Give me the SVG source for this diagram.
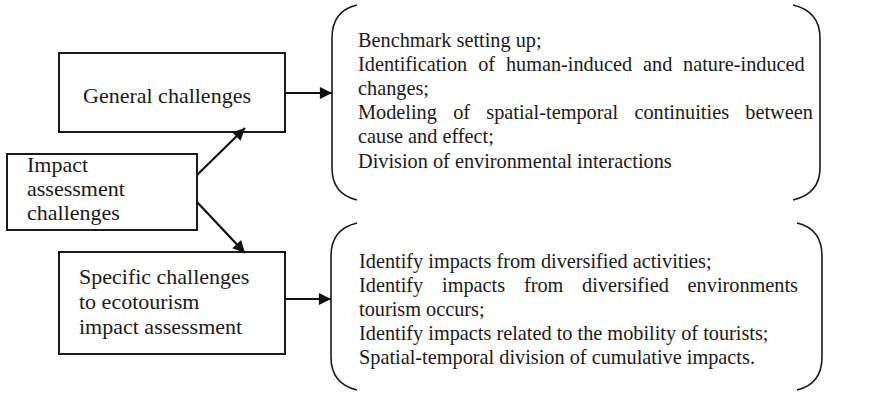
<svg xmlns="http://www.w3.org/2000/svg" width="876" height="394" viewBox="0 0 876 394">
<defs>
<style>
.box{fill:#fff;stroke:#1a1a1a;stroke-width:2}
.br{fill:none;stroke:#1a1a1a;stroke-width:1.6}
.lt{font-family:'Liberation Serif','Times New Roman',Times,serif;font-size:22px;fill:#1a1a1a}
.rt{font-family:'Liberation Serif','Times New Roman',Times,serif;font-size:20.3px;fill:#1a1a1a}
.con{fill:none;stroke:#111;stroke-width:2.2}
</style>
<marker id="ah" viewBox="0 0 10 10" refX="10" refY="5" markerWidth="6" markerHeight="5.5" markerUnits="strokeWidth" orient="auto">
<path d="M0,0 L10,5 L0,10 Z" fill="#111"/>
</marker>
</defs>
<rect width="876" height="394" fill="#fff"/>

<g id="impact">
<rect class="box" x="7" y="154" width="190" height="76"/>
<text class="lt" font-family="Liberation Serif, serif"><tspan x="27" y="172">Impact</tspan><tspan x="27" y="196">assessment</tspan><tspan x="27" y="220">challenges</tspan></text>
</g>

<g id="general">
<rect class="box" x="59" y="53" width="226" height="79"/>
<text class="lt" font-family="Liberation Serif, serif" x="83" y="103">General challenges</text>
</g>

<g id="specific">
<rect class="box" x="59" y="252" width="226" height="102"/>
<text class="lt" font-family="Liberation Serif, serif"><tspan x="79" y="284">Specific challenges</tspan><tspan x="79" y="309">to ecotourism</tspan><tspan x="79" y="334">impact assessment</tspan></text>
</g>

<g id="general-list">
<path class="br" d="M357,5 C340,9 332,20 332,38 L332,168 C332,186 340,196 357,200"/>
<path class="br" d="M793,5 C810,9 820,20 820,38 L820,168 C820,186 810,196 793,200"/>
<text class="rt" font-family="Liberation Serif, serif">
<tspan x="358" y="47">Benchmark setting up;</tspan>
<tspan x="358" y="71">Identification</tspan><tspan x="478.2" y="71">of</tspan><tspan x="505.9" y="71">human-induced</tspan><tspan x="643" y="71">and</tspan><tspan x="683.1" y="71">nature-induced</tspan>
<tspan x="358" y="95">changes;</tspan>
<tspan x="358" y="119">Modeling</tspan><tspan x="453.2" y="119">of</tspan><tspan x="486.3" y="119">spatial-temporal</tspan><tspan x="634.4" y="119">continuities</tspan><tspan x="745.3" y="119">between</tspan>
<tspan x="358" y="143">cause and effect;</tspan>
<tspan x="358" y="168">Division of environmental interactions</tspan>
</text>
</g>

<g id="specific-list">
<path class="br" d="M357,223 C340,227 331,238 331,256 L331,357 C331,375 340,386 357,390"/>
<path class="br" d="M797,223 C814,227 822,238 822,256 L822,357 C822,375 814,386 797,390"/>
<text class="rt" font-family="Liberation Serif, serif">
<tspan x="359" y="268">Identify impacts from diversified activities;</tspan>
<tspan x="359" y="292">Identify</tspan><tspan x="442" y="292">impacts</tspan><tspan x="523.9" y="292">from</tspan><tspan x="582.1" y="292">diversified</tspan><tspan x="687.6" y="292">environments</tspan>
<tspan x="359" y="316">tourism occurs;</tspan>
<tspan x="359" y="340">Identify impacts related to the mobility of tourists;</tspan>
<tspan x="359" y="364">Spatial-temporal division of cumulative impacts.</tspan>
</text>
</g>

<g id="connectors">
<line class="con" x1="197" y1="175" x2="245" y2="128" marker-end="url(#ah)"/>
<line class="con" x1="197" y1="202" x2="245" y2="253" marker-end="url(#ah)"/>
<line class="con" x1="285" y1="93" x2="332" y2="93" marker-end="url(#ah)"/>
<line class="con" x1="285" y1="299" x2="331" y2="299" marker-end="url(#ah)"/>
</g>
</svg>
